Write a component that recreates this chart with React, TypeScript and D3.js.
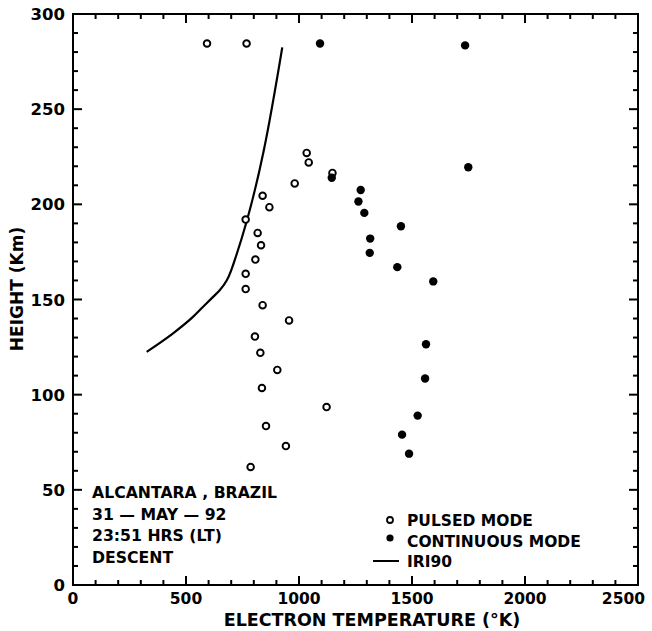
import React, { useEffect, useRef } from 'react'
import * as d3 from 'd3'

// pulsed mode (open circles): temperature K / height km
const pulsedTemp = [593, 768, 1034, 1043, 1148, 981, 839, 869, 764, 817, 832, 807, 764, 764, 839, 956, 805, 829, 904, 836, 1122, 854, 942, 786]
const pulsedHeight = [284.5, 284.5, 227, 222, 216.5, 211, 204.5, 198.5, 192, 185, 178.5, 171, 163.5, 155.5, 147, 139, 130.5, 122, 113, 103.5, 93.5, 83.5, 73, 62]

// continuous mode (filled circles)
const contTemp = [1093, 1735, 1749, 1145, 1273, 1263, 1289, 1451, 1315, 1313, 1435, 1594, 1562, 1558, 1525, 1456, 1487]
const contHeight = [284.5, 283.5, 219.5, 214, 207.5, 201.5, 195.5, 188.5, 182, 174.5, 167, 159.5, 126.5, 108.5, 89, 79, 69]

// IRI90 model curve
const iriTemp = [326, 440, 532, 570, 621, 650, 680, 702, 722, 926]
const iriHeight = [122.5, 132, 141, 145.5, 151.5, 155, 160, 166, 173, 282.5]

const xTicks = [0, 500, 1000, 1500, 2000, 2500]
const yTicks = [0, 50, 100, 150, 200, 250, 300]

const annotation = ['ALCANTARA , BRAZIL', '31 — MAY — 92', '23:51 HRS (LT)', 'DESCENT']
const legendItems = ['PULSED MODE', 'CONTINUOUS MODE', 'IRI90']

const FONT = '"DejaVu Sans", sans-serif'

export default function App() {
  const ref = useRef<SVGSVGElement>(null)

  useEffect(() => {
    const svg = d3.select(ref.current)
    svg.selectAll('*').remove()

    const left = 73, right = 638, top = 14, bottom = 585
    const x = d3.scaleLinear().domain([0, 2500]).range([left, right])
    const y = d3.scaleLinear().domain([0, 300]).range([bottom, top])

    const xMinor = d3.range(0, 2501, 100)
    const yMinor = d3.range(0, 301, 10)

    const g = svg.append('g')

    // frame
    g.append('rect')
      .attr('x', left).attr('y', top)
      .attr('width', right - left).attr('height', bottom - top)
      .attr('fill', 'none').attr('stroke', '#000').attr('stroke-width', 2)

    // ticks, inward on all four sides
    xMinor.forEach(v => {
      const L = v % 500 === 0 ? 9 : 5
      g.append('line').attr('x1', x(v)).attr('x2', x(v)).attr('y1', bottom).attr('y2', bottom - L)
        .attr('stroke', '#000').attr('stroke-width', 2)
      g.append('line').attr('x1', x(v)).attr('x2', x(v)).attr('y1', top).attr('y2', top + L)
        .attr('stroke', '#000').attr('stroke-width', 2)
    })
    yMinor.forEach(v => {
      const L = v % 50 === 0 ? 9 : 5
      g.append('line').attr('x1', left).attr('x2', left + L).attr('y1', y(v)).attr('y2', y(v))
        .attr('stroke', '#000').attr('stroke-width', 2)
      g.append('line').attr('x1', right).attr('x2', right - L).attr('y1', y(v)).attr('y2', y(v))
        .attr('stroke', '#000').attr('stroke-width', 2)
    })

    // tick labels
    g.selectAll('.xl').data(xTicks).enter().append('text')
      .attr('x', d => (d === 2500 ? x(d) + 7 : x(d))).attr('y', bottom + 19)
      .attr('text-anchor', d => (d === 2500 ? 'end' : 'middle'))
      .attr('font-family', FONT).attr('font-weight', 'bold').attr('font-size', 15.5)
      .text(d => d)
    g.selectAll('.yl').data(yTicks).enter().append('text')
      .attr('x', left - 8).attr('y', d => y(d) + 6)
      .attr('text-anchor', 'end')
      .attr('font-family', FONT).attr('font-weight', 'bold').attr('font-size', 16.5)
      .text(d => d)

    // axis titles
    g.append('text')
      .attr('x', 372).attr('y', 626)
      .attr('text-anchor', 'middle')
      .attr('font-family', FONT).attr('font-weight', 'bold').attr('font-size', 17.5)
      .text('ELECTRON TEMPERATURE (°K)')
    g.append('text')
      .attr('transform', 'translate(23,289) rotate(-90)')
      .attr('text-anchor', 'middle')
      .attr('font-family', FONT).attr('font-weight', 'bold').attr('font-size', 17)
      .text('HEIGHT (Km)')

    // IRI90 line
    const line = d3.line<number>()
      .x(i => x(iriTemp[i]))
      .y(i => y(iriHeight[i]))
      .curve(d3.curveMonotoneY)
    g.append('path')
      .attr('d', line(d3.range(iriTemp.length)))
      .attr('fill', 'none').attr('stroke', '#000').attr('stroke-width', 2.2)

    // data points
    g.selectAll('.p').data(d3.range(pulsedTemp.length)).enter().append('circle')
      .attr('cx', i => x(pulsedTemp[i])).attr('cy', i => y(pulsedHeight[i]))
      .attr('r', 3.3).attr('fill', '#fff').attr('stroke', '#000').attr('stroke-width', 1.9)
    g.selectAll('.c').data(d3.range(contTemp.length)).enter().append('circle')
      .attr('cx', i => x(contTemp[i])).attr('cy', i => y(contHeight[i]))
      .attr('r', 4.2).attr('fill', '#000')

    // annotation
    annotation.forEach((s, i) => {
      g.append('text')
        .attr('x', 92).attr('y', 498 + i * 21.5)
        .attr('font-family', FONT).attr('font-weight', 'bold').attr('font-size', 15.7)
        .text(s)
    })

    // legend
    const lg = g.append('g')
    lg.append('circle').attr('cx', 390).attr('cy', 520).attr('r', 3)
      .attr('fill', '#fff').attr('stroke', '#000').attr('stroke-width', 1.8)
    lg.append('circle').attr('cx', 390).attr('cy', 538).attr('r', 3.6).attr('fill', '#000')
    lg.append('line').attr('x1', 373).attr('x2', 399).attr('y1', 561).attr('y2', 561)
      .attr('stroke', '#000').attr('stroke-width', 2)
    legendItems.forEach((s, i) => {
      lg.append('text')
        .attr('x', 407).attr('y', 526 + i * 20.5)
        .attr('font-family', FONT).attr('font-weight', 'bold').attr('font-size', 15.5)
        .text(s)
    })
  }, [])

  return (
    <div style={{ position: 'fixed', left: 0, top: 0, width: 652, height: 631, background: '#fff' }}>
      <svg ref={ref} width={652} height={631} style={{ display: 'block' }} />
    </div>
  )
}
